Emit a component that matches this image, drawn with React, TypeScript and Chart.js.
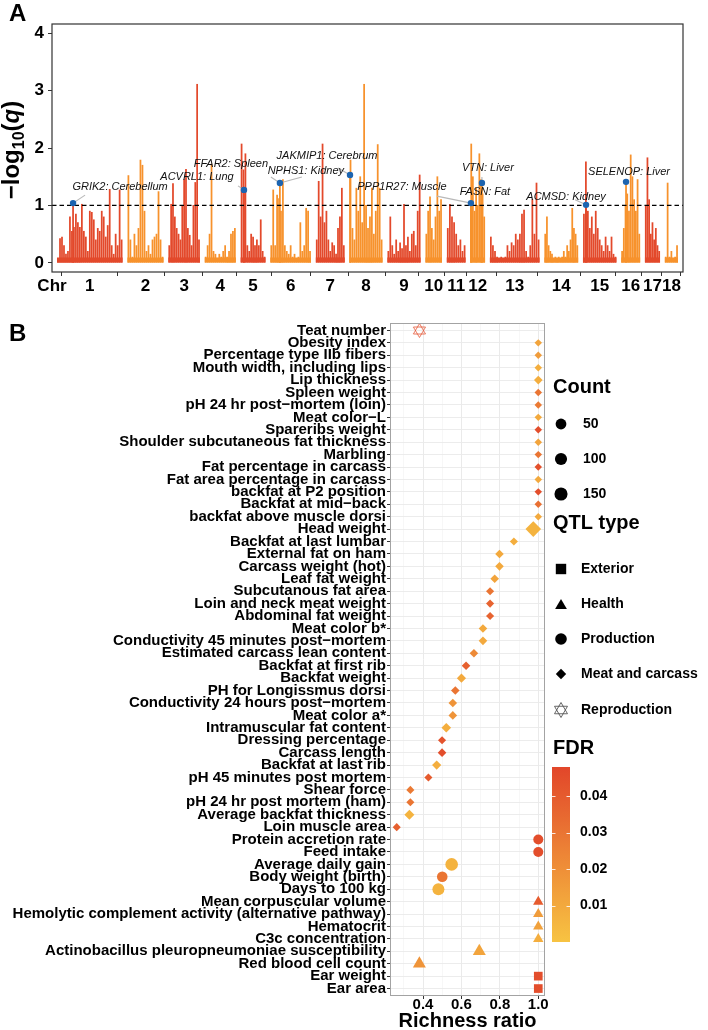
import React, { useEffect, useRef } from "react";
import { Chart, registerables } from "chart.js";

Chart.register(...registerables);

const FONT = "'Liberation Sans', Arial, Helvetica, sans-serif";

// ---------------- Panel A data ----------------
const chromosomes = ["1", "2", "3", "4", "5", "6", "7", "8", "9", "10", "11", "12", "13", "14", "15", "16", "17", "18"];
const chromLengthsMb = [274, 151, 132, 130, 104, 170, 121, 138, 139, 69, 79, 61, 208, 141, 140, 79, 63, 55];

const chr1Q = [0.08, 0.42, 0.45, 0.3, 0.15, 0.2, 0.8, 0.55, 0.62, 0.85, 0.7, 0.62, 1.02, 0.55, 0.45, 0.2, 0.9, 0.88, 0.75, 0.4, 0.6, 0.55, 0.9, 0.8, 0.45, 0.65, 1.28, 0.3, 0.15, 0.5, 0.3, 1.27, 0.4];
const chr2Q = [1.52, 0.4, 0.1, 0.5, 0.3, 0.6, 1.79, 1.7, 0.9, 0.2, 0.3, 0.15, 0.4, 0.45, 0.5, 1.24, 0.4, 0.1];
const chr3Q = [0.3, 1.02, 1.38, 0.8, 0.6, 0.5, 0.4, 1.0, 1.45, 1.63, 0.6, 0.48, 0.3, 1.0, 1.4, 3.11, 0.4];
const chr4Q = [0.1, 0.3, 0.5, 1.72, 0.2, 0.15, 0.05, 0.15, 0.1, 0.2, 0.3, 0.1, 0.2, 0.5, 0.55, 0.6];
const chr5Q = [2.07, 1.62, 1.9, 0.3, 0.2, 0.5, 0.45, 0.3, 0.4, 0.3, 0.75, 0.2, 0.1];
const chr6Q = [0.3, 1.27, 0.3, 1.18, 1.12, 0.9, 1.45, 0.3, 0.2, 0.15, 0.3, 0.1, 0.15, 0.05, 0.1, 0.7, 0.2, 0.3, 0.95, 0.9, 0.2];
const chr7Q = [0.4, 1.42, 0.8, 2.07, 0.7, 0.9, 0.4, 0.2, 0.35, 0.3, 0.15, 0.6, 0.8, 1.3, 0.3];
const chr8Q = [1.79, 0.6, 0.4, 1.3, 0.9, 1.5, 0.7, 3.11, 1.0, 0.6, 0.8, 1.3, 0.5, 0.9, 2.06, 1.3, 0.4];
const chr9Q = [0.2, 0.8, 0.3, 0.15, 0.4, 0.2, 0.35, 0.25, 1.02, 0.3, 0.45, 0.2, 0.5, 0.55, 0.3, 0.9, 1.53];
const chr10Q = [0.5, 0.9, 1.15, 0.6, 0.4, 0.8, 1.5, 0.9, 1.1];
const chr11Q = [0.6, 1.02, 0.8, 0.7, 0.5, 0.3, 0.4, 0.2, 0.3];
const chr12Q = [2.07, 1.5, 0.9, 1.3, 1.0, 1.9, 1.45, 1.2, 0.8];
const chr13Q = [0.45, 0.3, 0.2, 0.1, 0.05, 0.1, 0.05, 0.1, 0.3, 0.2, 0.35, 0.3, 0.5, 0.4, 0.5, 0.85, 0.92, 0.2, 0.1, 0.3, 1.1, 0.5, 1.39, 0.4];
const chr14Q = [0.5, 0.8, 0.3, 0.2, 0.15, 0.05, 0.1, 0.05, 0.1, 0.05, 0.1, 0.2, 0.1, 0.3, 0.2, 0.4, 0.95, 0.6, 0.5, 0.3];
const chr15Q = [0.85, 1.76, 0.9, 0.6, 0.8, 0.5, 0.9, 0.6, 0.4, 0.3, 0.2, 0.45, 0.3, 0.2, 0.45, 0.15, 0.1];
const chr16Q = [0.2, 0.6, 1.0, 1.2, 0.9, 1.88, 1.5, 1.1, 0.9, 1.45, 0.5];
const chr17Q = [1.0, 1.83, 1.1, 0.5, 0.7, 0.4, 0.6, 0.3, 0.2];
const chr18Q = [0.1, 1.39, 0.1, 0.2, 0.05, 0.1, 0.3];
const chromQ = [chr1Q, chr2Q, chr3Q, chr4Q, chr5Q, chr6Q, chr7Q, chr8Q, chr9Q, chr10Q, chr11Q, chr12Q, chr13Q, chr14Q, chr15Q, chr16Q, chr17Q, chr18Q];

const hitChr = [1, 5, 6, 8, 12, 12, 15, 16];
const hitPosMb = [67, 14, 40, 2, 2, 48, 13, 20];
const hitQ = [1.04, 1.27, 1.39, 1.53, 1.04, 1.39, 1.01, 1.41];
const labelTexts = ["GRIK2: Cerebellum", "ACVRL1: Lung", "FFAR2: Spleen", "NPHS1: Kidney", "JAKMIP1: Cerebrum", "PPP1R27: Muscle", "FASN: Fat", "VTN: Liver", "ACMSD: Kidney", "SELENOP: Liver"];
const labelHit = [0, 1, 2, 2, 3, 4, 4, 5, 6, 7];
const threshold = 1;
const yTicksA = [0, 1, 2, 3, 4];

// label layout (pixel offsets from the point: label centre, connector end)
const labelOffsets = [[47, -16], [-47, -13], [-49, -19], [26, -12], [-23, -19], [-69, -16], [14, -11], [6, -15], [-20, -8], [3, -10]];
const connectorEnds: (number[] | null)[] = [[12, -8], [-6, -4], [-9, -6], [22, -6], [-12, -7], [-34, -7], null, [0, -6], [-11, -5], null];

// ---------------- Panel B data ----------------
const traits = [
  "Teat number", "Obesity index", "Percentage type IIb fibers", "Mouth width, including lips", "Lip thickness",
  "Spleen weight", "pH 24 hr post−mortem (loin)", "Meat color−L", "Spareribs weight", "Shoulder subcutaneous fat thickness",
  "Marbling", "Fat percentage in carcass", "Fat area percentage in carcass", "backfat at P2 position", "Backfat at mid−back",
  "backfat above muscle dorsi", "Head weight", "Backfat at last lumbar", "External fat on ham", "Carcass weight (hot)",
  "Leaf fat weight", "Subcutanous fat area", "Loin and neck meat weight", "Abdominal fat weight", "Meat color b*",
  "Conductivity 45 minutes post−mortem", "Estimated carcass lean content", "Backfat at first rib", "Backfat weight", "PH for Longissmus dorsi",
  "Conductivity 24 hours post−mortem", "Meat color a*", "Intramuscular fat content", "Dressing percentage", "Carcass length",
  "Backfat at last rib", "pH 45 minutes post mortem", "Shear force", "pH 24 hr post mortem (ham)", "Average backfat thickness",
  "Loin muscle area", "Protein accretion rate", "Feed intake", "Average daily gain", "Body weight (birth)",
  "Days to 100 kg", "Mean corpuscular volume", "Hemolytic complement activity (alternative pathway)", "Hematocrit", "C3c concentration",
  "Actinobacillus pleuropneumoniae susceptibility", "Red blood cell count", "Ear weight", "Ear area",
];
const richness = [
  0.381, 1.0, 1.0, 1.0, 1.0, 1.0, 1.0, 1.0, 1.0, 1.0,
  1.0, 1.0, 1.0, 1.0, 1.0, 1.0, 0.974, 0.873, 0.798, 0.798,
  0.773, 0.749, 0.749, 0.749, 0.712, 0.712, 0.665, 0.624, 0.6, 0.568,
  0.555, 0.555, 0.521, 0.499, 0.499, 0.471, 0.428, 0.334, 0.334, 0.329,
  0.263, 1.0, 1.0, 0.549, 0.5, 0.48, 1.0, 1.0, 1.0, 1.0,
  0.693, 0.381, 1.0, 1.0,
];
const R = "Reproduction", M = "Meat and carcass", P = "Production", H = "Health", E = "Exterior";
const qtlType = [
  R, M, M, M, M, M, M, M, M, M,
  M, M, M, M, M, M, M, M, M, M,
  M, M, M, M, M, M, M, M, M, M,
  M, M, M, M, M, M, M, M, M, M,
  M, P, P, P, P, P, H, H, H, H,
  H, H, E, E,
];
const fdr = [
  0.045, 0.012, 0.015, 0.008, 0.008, 0.03, 0.028, 0.01, 0.045, 0.012,
  0.03, 0.044, 0.01, 0.045, 0.032, 0.01, 0.006, 0.008, 0.01, 0.01,
  0.012, 0.03, 0.037, 0.037, 0.01, 0.01, 0.022, 0.038, 0.01, 0.03,
  0.018, 0.018, 0.008, 0.043, 0.045, 0.008, 0.04, 0.028, 0.03, 0.006,
  0.038, 0.045, 0.045, 0.006, 0.03, 0.006, 0.04, 0.015, 0.013, 0.008,
  0.012, 0.018, 0.045, 0.045,
];
const counts = [
  88, 55, 55, 55, 124, 55, 55, 55, 55, 55,
  55, 55, 55, 55, 55, 55, 1190, 90, 124, 124,
  124, 90, 90, 90, 124, 124, 124, 124, 170, 124,
  124, 124, 210, 90, 124, 170, 90, 90, 90, 250,
  90, 27, 27, 124, 43, 95, 31, 31, 31, 31,
  129, 129, 50, 50,
];
const qtlTypes = ["Exterior", "Health", "Production", "Meat and carcass", "Reproduction"];
const countBreaks = [50, 100, 150];
const fdrBreaks = [0.01, 0.02, 0.03, 0.04];
const xTicksB = [0.3, 0.4, 0.5, 0.6, 0.7, 0.8, 0.9, 1.0];

// ---------------- styling helpers ----------------
const RED = "#E3492B";
const ORANGE = "#F7922C";
const HIT_BLUE = "#1C64B0";
const FDR_MIN = 0;
const FDR_MAX = 0.048;
const LOW_RGB = [247, 195, 66];
const HIGH_RGB = [226, 70, 42];
const GAP_MB = 20;
const X_PAD_MB = 21;

function chrColor(c: number) {
  return c % 2 === 0 ? RED : ORANGE;
}
function fdrColor(v: number, alpha = 1) {
  const t = Math.max(0, Math.min(1, (v - FDR_MIN) / (FDR_MAX - FDR_MIN)));
  const c = LOW_RGB.map((l, i) => Math.round(l + (HIGH_RGB[i] - l) * t));
  return `rgba(${c[0]},${c[1]},${c[2]},${alpha})`;
}
function baseSize(count: number) {
  return 3.5 + 0.2 * Math.sqrt(count);
}
const shapeFactor: Record<string, number> = { Exterior: 1.25, Health: 1.3, Production: 1.1, "Meat and carcass": 0.75, Reproduction: 1 };
const shapeStyle: Record<string, string> = { Exterior: "rect", Health: "triangle", Production: "circle", "Meat and carcass": "rectRot", Reproduction: "hex" };

function chromStarts() {
  const s: number[] = [];
  let acc = 0;
  chromLengthsMb.forEach((L) => {
    s.push(acc);
    acc += L + GAP_MB;
  });
  return s;
}

function drawHexagram(ctx: CanvasRenderingContext2D, x: number, y: number, r: number, color: string, lw: number) {
  ctx.save();
  ctx.strokeStyle = color;
  ctx.lineWidth = lw;
  for (const dir of [1, -1]) {
    ctx.beginPath();
    ctx.moveTo(x, y - dir * r);
    ctx.lineTo(x + 0.866 * r, y + dir * 0.5 * r);
    ctx.lineTo(x - 0.866 * r, y + dir * 0.5 * r);
    ctx.closePath();
    ctx.stroke();
  }
  ctx.restore();
}

function makeHexCanvas(color: string) {
  const c = document.createElement("canvas");
  c.width = 17;
  c.height = 17;
  const ctx = c.getContext("2d")!;
  drawHexagram(ctx, 8.5, 8.5, 7, color, 1);
  return c;
}

// ---------------- Panel A ----------------
function configA(): any {
  const starts = chromStarts();
  const bars: { x: number; y: number }[] = [];
  const barColors: string[] = [];
  chromQ.forEach((vals, c) => {
    vals.forEach((v, i) => {
      bars.push({ x: starts[c] + (chromLengthsMb[c] * (i + 0.5)) / vals.length, y: v });
      barColors.push(chrColor(c));
    });
  });
  hitChr.forEach((ch, k) => {
    bars.push({ x: starts[ch - 1] + hitPosMb[k], y: hitQ[k] });
    barColors.push(chrColor(ch - 1));
  });
  const hitPoints = hitChr.map((ch, k) => ({ x: starts[ch - 1] + hitPosMb[k], y: hitQ[k] }));
  const centers = chromLengthsMb.map((L, c) => starts[c] + L / 2);
  const xMin = -X_PAD_MB;
  const xMax = starts[17] + chromLengthsMb[17] + X_PAD_MB;

  const baselines = chromLengthsMb.map((L, c) => ({
    type: "line",
    data: [
      { x: starts[c], y: 0.05 },
      { x: starts[c] + L, y: 0.05 },
    ],
    borderColor: chrColor(c),
    borderWidth: 5,
    pointRadius: 0,
    order: 3,
  }));

  const plugin = {
    id: "panelA",
    afterDatasetDraw(chart: any, args: any) {
      const ds = chart.data.datasets[args.index];
      if (ds.label !== "threshold") return;
      const { ctx, scales } = chart;
      ctx.save();
      ctx.strokeStyle = "#B8B8B8";
      ctx.lineWidth = 1.1;
      labelHit.forEach((h, li) => {
        const end = connectorEnds[li];
        if (!end) return;
        const px = scales.x.getPixelForValue(hitPoints[h].x);
        const py = scales.y.getPixelForValue(hitPoints[h].y);
        ctx.beginPath();
        ctx.moveTo(px, py);
        ctx.lineTo(px + end[0], py + end[1]);
        ctx.stroke();
      });
      ctx.restore();
    },
    afterDatasetsDraw(chart: any) {
      const { ctx, scales } = chart;
      ctx.save();
      ctx.font = `italic 11px ${FONT}`;
      ctx.fillStyle = "#111";
      ctx.textAlign = "center";
      ctx.textBaseline = "middle";
      labelTexts.forEach((t, li) => {
        const h = labelHit[li];
        const px = scales.x.getPixelForValue(hitPoints[h].x);
        const py = scales.y.getPixelForValue(hitPoints[h].y);
        ctx.fillText(t, px + labelOffsets[li][0], py + labelOffsets[li][1]);
      });
      ctx.restore();
    },
    afterDraw(chart: any) {
      const { ctx, chartArea } = chart;
      ctx.save();
      ctx.strokeStyle = "#333";
      ctx.lineWidth = 1.2;
      ctx.strokeRect(chartArea.left, chartArea.top, chartArea.right - chartArea.left, chartArea.bottom - chartArea.top);
      ctx.fillStyle = "#000";
      ctx.font = `bold 24px ${FONT}`;
      ctx.textAlign = "left";
      ctx.textBaseline = "alphabetic";
      ctx.fillText("A", 9, 21);
      ctx.font = `bold 17px ${FONT}`;
      ctx.textAlign = "center";
      ctx.textBaseline = "middle";
      ctx.fillText("Chr", chartArea.left, 286);
      // y title: −log10(q)
      ctx.translate(19, 150);
      ctx.rotate(-Math.PI / 2);
      const big = `bold 24px ${FONT}`;
      const small = `bold 16px ${FONT}`;
      const ital = `italic bold 24px ${FONT}`;
      const parts: [string, string, number][] = [["−log", big, 0], ["10", small, 5], ["(", big, 0], ["q", ital, 0], [")", big, 0]];
      let total = 0;
      parts.forEach((p) => {
        ctx.font = p[1];
        total += ctx.measureText(p[0]).width;
      });
      let x = -total / 2;
      ctx.textAlign = "left";
      ctx.textBaseline = "alphabetic";
      parts.forEach((p) => {
        ctx.font = p[1];
        ctx.fillText(p[0], x, p[2]);
        x += ctx.measureText(p[0]).width;
      });
      ctx.restore();
    },
  };

  return {
    type: "bar",
    data: {
      datasets: [
        { type: "bar", data: bars, backgroundColor: barColors, barThickness: 1.1, order: 4 },
        ...baselines,
        {
          type: "line",
          label: "threshold",
          data: [
            { x: xMin, y: threshold },
            { x: xMax, y: threshold },
          ],
          borderColor: "#000",
          borderWidth: 1.2,
          borderDash: [4.5, 3],
          pointRadius: 0,
          order: 2,
        },
        {
          type: "line",
          data: hitPoints,
          showLine: false,
          pointRadius: 3.2,
          pointBackgroundColor: HIT_BLUE,
          pointBorderWidth: 0,
          order: 1,
        },
      ],
    },
    options: {
      animation: false,
      responsive: false,
      events: [],
      layout: { padding: { left: 0, top: 24, right: 25, bottom: 0 } },
      plugins: { legend: { display: false }, tooltip: { enabled: false } },
      scales: {
        x: {
          type: "linear",
          min: xMin,
          max: xMax,
          offset: false,
          afterBuildTicks: (s: any) => {
            s.ticks = centers.map((v) => ({ value: v }));
          },
          afterFit: (s: any) => {
            s.height = 28;
            s.paddingLeft = 0;
            s.paddingRight = 0;
          },
          ticks: {
            autoSkip: false,
            maxRotation: 0,
            padding: 0,
            color: "#000",
            font: { family: FONT, size: 17, weight: "bold" },
            callback: (_v: any, i: number) => chromosomes[i],
          },
          grid: { display: true, drawOnChartArea: false, drawTicks: true, tickLength: 4, tickColor: "#333", tickWidth: 1 },
          border: { display: false },
        },
        y: {
          type: "linear",
          min: -0.16,
          max: 4.16,
          afterBuildTicks: (s: any) => {
            s.ticks = yTicksA.map((v) => ({ value: v }));
          },
          afterFit: (s: any) => {
            s.width = 52;
            s.paddingTop = 0;
            s.paddingBottom = 0;
          },
          ticks: { padding: 4, color: "#000", font: { family: FONT, size: 17, weight: "bold" }, callback: (v: any) => String(v) },
          grid: { display: true, drawOnChartArea: false, drawTicks: true, tickLength: 4, tickColor: "#333", tickWidth: 1 },
          border: { display: false },
        },
      },
    },
    plugins: [plugin],
  };
}

// ---------------- Panel B ----------------
const LEG = {
  x0: 553,
  symX: 561,
  textX: 582,
  countTitleY: 87,
  countY: [124, 159, 194],
  typeTitleY: 223,
  typeY: [269, 304, 339, 374, 410],
  fdrTitleY: 448,
  barLeft: 552,
  barRight: 570,
  barTop: 467,
  barBottom: 642,
};

function drawLegendShape(ctx: CanvasRenderingContext2D, type: string, x: number, y: number) {
  ctx.fillStyle = "#000";
  ctx.beginPath();
  if (type === "Exterior") {
    ctx.rect(x - 5.2, y - 5.2, 10.4, 10.4);
    ctx.fill();
  } else if (type === "Health") {
    const r = 6.8;
    const cy = y + 0.25 * r;
    ctx.moveTo(x, cy - r);
    ctx.lineTo(x + 0.866 * r, cy + 0.5 * r);
    ctx.lineTo(x - 0.866 * r, cy + 0.5 * r);
    ctx.closePath();
    ctx.fill();
  } else if (type === "Production") {
    ctx.arc(x, y, 5.8, 0, Math.PI * 2);
    ctx.fill();
  } else if (type === "Meat and carcass") {
    const r = 5.2;
    ctx.moveTo(x, y - r);
    ctx.lineTo(x + r, y);
    ctx.lineTo(x, y + r);
    ctx.lineTo(x - r, y);
    ctx.closePath();
    ctx.fill();
  } else {
    drawHexagram(ctx, x, y, 7.5, "#555", 0.9);
  }
}

function configB(hexCanvas: HTMLCanvasElement): any {
  const data = richness.map((x, i) => ({ x, y: i }));
  const isMajor = (v: number) => Math.round(v * 10) % 2 === 0;

  const plugin = {
    id: "panelB",
    afterDraw(chart: any) {
      const { ctx, chartArea } = chart;
      ctx.save();
      ctx.strokeStyle = "#A3A3A3";
      ctx.lineWidth = 1;
      ctx.strokeRect(chartArea.left + 0.5, chartArea.top + 0.5, chartArea.right - chartArea.left - 1, chartArea.bottom - chartArea.top - 1);

      ctx.fillStyle = "#000";
      ctx.textAlign = "left";
      ctx.textBaseline = "middle";
      ctx.font = `bold 24px ${FONT}`;
      ctx.fillText("B", 9, 34);

      ctx.textAlign = "center";
      ctx.font = `bold 20px ${FONT}`;
      ctx.fillText("Richness ratio", (chartArea.left + chartArea.right) / 2, 721);

      // Count legend
      ctx.textAlign = "left";
      ctx.font = `bold 20px ${FONT}`;
      ctx.fillText("Count", LEG.x0, LEG.countTitleY);
      countBreaks.forEach((c, i) => {
        ctx.fillStyle = "#000";
        ctx.beginPath();
        ctx.arc(LEG.symX, LEG.countY[i], baseSize(c) * 1.1, 0, Math.PI * 2);
        ctx.fill();
        ctx.font = `bold 14px ${FONT}`;
        ctx.fillText(String(c), LEG.textX + 1, LEG.countY[i]);
      });

      // QTL type legend
      ctx.font = `bold 20px ${FONT}`;
      ctx.fillText("QTL type", LEG.x0, LEG.typeTitleY);
      qtlTypes.forEach((t, i) => {
        drawLegendShape(ctx, t, LEG.symX, LEG.typeY[i]);
        ctx.fillStyle = "#000";
        ctx.font = `bold 14px ${FONT}`;
        ctx.fillText(t, LEG.textX - 1, LEG.typeY[i]);
      });

      // FDR colorbar
      ctx.font = `bold 20px ${FONT}`;
      ctx.fillText("FDR", LEG.x0, LEG.fdrTitleY);
      const g = ctx.createLinearGradient(0, LEG.barBottom, 0, LEG.barTop);
      for (let k = 0; k <= 10; k++) g.addColorStop(k / 10, fdrColor(FDR_MIN + ((FDR_MAX - FDR_MIN) * k) / 10));
      ctx.fillStyle = g;
      ctx.fillRect(LEG.barLeft, LEG.barTop, LEG.barRight - LEG.barLeft, LEG.barBottom - LEG.barTop);
      const yOf = (v: number) => LEG.barBottom - ((v - FDR_MIN) / (FDR_MAX - FDR_MIN)) * (LEG.barBottom - LEG.barTop);
      ctx.strokeStyle = "rgba(255,255,255,0.85)";
      ctx.lineWidth = 1;
      fdrBreaks.forEach((b) => {
        const y = Math.round(yOf(b)) + 0.5;
        ctx.beginPath();
        ctx.moveTo(LEG.barLeft, y);
        ctx.lineTo(LEG.barLeft + 3.5, y);
        ctx.moveTo(LEG.barRight - 3.5, y);
        ctx.lineTo(LEG.barRight, y);
        ctx.stroke();
        ctx.fillStyle = "#000";
        ctx.font = `bold 14px ${FONT}`;
        ctx.fillText(b.toFixed(2), 580, yOf(b));
      });
      ctx.restore();
    },
  };

  return {
    type: "scatter",
    data: {
      datasets: [
        {
          data,
          pointStyle: (c: any) => {
            const s = shapeStyle[qtlType[c.dataIndex]];
            return s === "hex" ? hexCanvas : s;
          },
          pointRadius: (c: any) => shapeFactor[qtlType[c.dataIndex]] * baseSize(counts[c.dataIndex]),
          pointBackgroundColor: (c: any) => fdrColor(fdr[c.dataIndex]),
          pointBorderWidth: 0,
        },
      ],
    },
    options: {
      animation: false,
      responsive: false,
      events: [],
      layout: { padding: { left: 0, top: 23, right: 163, bottom: 0 } },
      plugins: { legend: { display: false }, tooltip: { enabled: false } },
      scales: {
        x: {
          type: "linear",
          min: 0.228,
          max: 1.035,
          afterBuildTicks: (s: any) => {
            s.ticks = xTicksB.map((v) => ({ value: v }));
          },
          afterFit: (s: any) => {
            s.height = 34;
            s.paddingLeft = 0;
            s.paddingRight = 0;
          },
          ticks: {
            autoSkip: false,
            maxRotation: 0,
            padding: -2,
            color: "#000",
            font: { family: FONT, size: 15, weight: "bold", lineHeight: 1 },
            callback: (v: any) => (isMajor(Number(v)) ? Number(v).toFixed(1) : ""),
          },
          grid: {
            color: (c: any) => (c.tick && isMajor(c.tick.value) ? "#EAEAEA" : "#F4F4F4"),
            lineWidth: (c: any) => (c.tick && isMajor(c.tick.value) ? 1 : 0.7),
            tickLength: 3,
            tickColor: (c: any) => (c.tick && isMajor(c.tick.value) ? "#333" : "rgba(0,0,0,0)"),
            tickWidth: 1,
          },
          border: { display: false },
        },
        y: {
          type: "linear",
          reverse: true,
          min: -0.6,
          max: 53.6,
          afterBuildTicks: (s: any) => {
            s.ticks = traits.map((_t, i) => ({ value: i }));
          },
          afterFit: (s: any) => {
            s.width = 390;
            s.paddingTop = 0;
            s.paddingBottom = 0;
          },
          ticks: {
            autoSkip: false,
            padding: 1,
            color: "#000",
            font: { family: FONT, size: 15, weight: "bold", lineHeight: 1 },
            callback: (v: any) => traits[Number(v)],
          },
          grid: { color: "#EAEAEA", lineWidth: 0.9, tickLength: 3, tickColor: "#333", tickWidth: 1 },
          border: { display: false },
        },
      },
    },
    plugins: [plugin],
  };
}

export default function App() {
  const refA = useRef<HTMLCanvasElement>(null);
  const refB = useRef<HTMLCanvasElement>(null);
  useEffect(() => {
    const hex = makeHexCanvas(fdrColor(fdr[0], 0.75));
    const a = new Chart(refA.current!, configA());
    const b = new Chart(refB.current!, configB(hex));
    return () => {
      a.destroy();
      b.destroy();
    };
  }, []);
  return (
    <div style={{ position: "absolute", left: 0, top: 0, width: 708, height: 1030, background: "#fff", overflow: "hidden" }}>
      <canvas ref={refA} width={708} height={300} style={{ position: "absolute", left: 0, top: 0 }} />
      <canvas ref={refB} width={708} height={730} style={{ position: "absolute", left: 0, top: 300 }} />
    </div>
  );
}
